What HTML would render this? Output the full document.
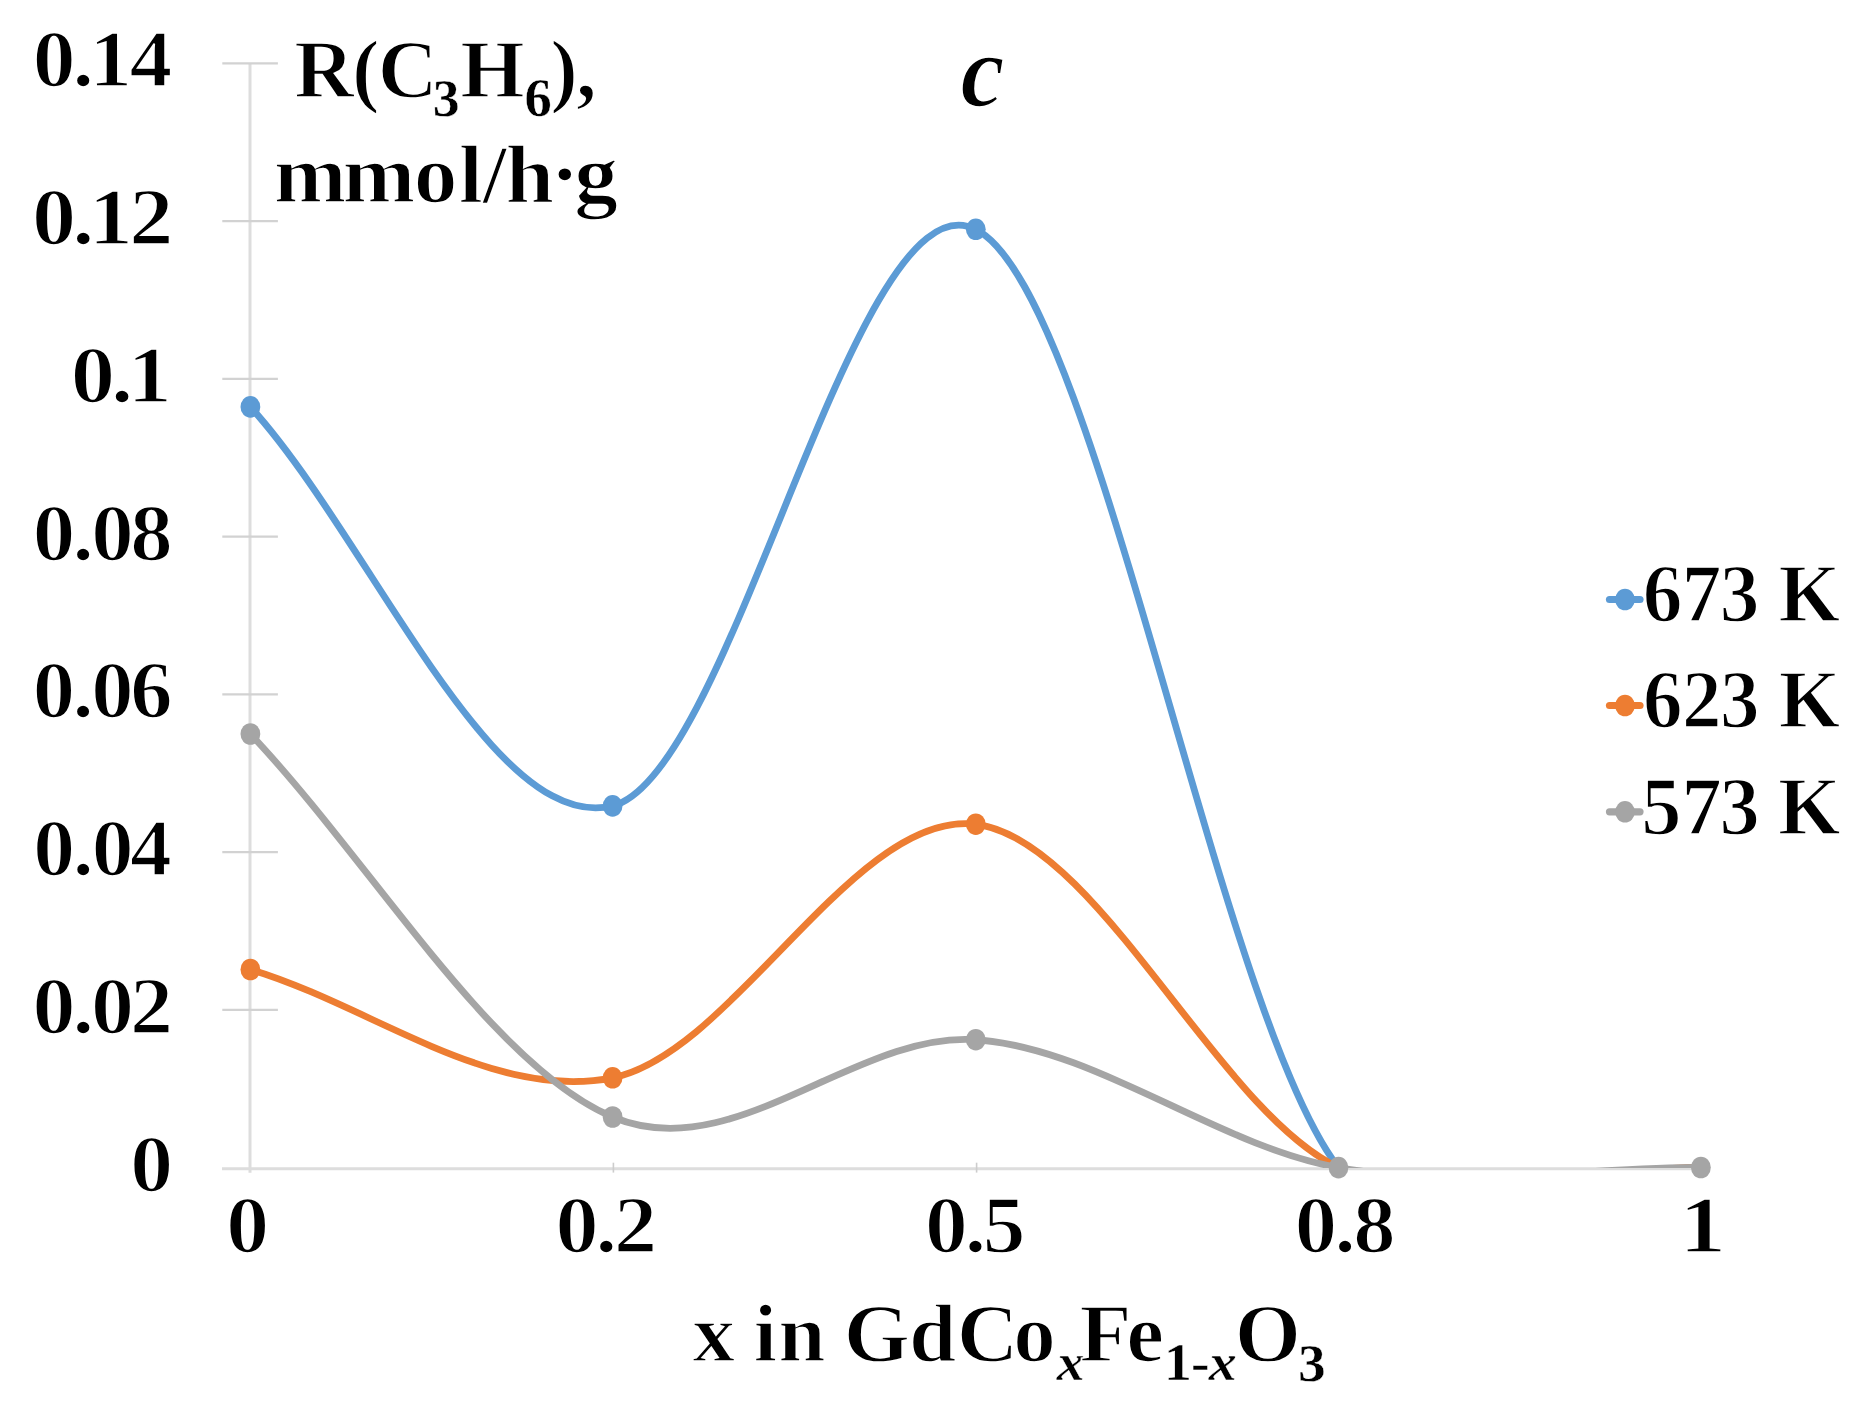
<!DOCTYPE html>
<html><head><meta charset="utf-8"><title>chart</title>
<style>
html,body{margin:0;padding:0;background:#fff;}
svg{display:block;font-family:"Liberation Serif",serif;}
text{white-space:pre;vector-effect:non-scaling-stroke;}
</style></head><body>
<svg width="1871" height="1406" viewBox="0 0 1871 1406">
<defs>
<filter id="soft" x="0" y="0" width="1871" height="1406" filterUnits="userSpaceOnUse"><feGaussianBlur stdDeviation="0.55"/></filter>
<clipPath id="pc"><rect x="0" y="0" width="1871" height="1168.1"/></clipPath>
</defs>
<rect width="1871" height="1406" fill="#fff"/>
<g filter="url(#soft)">
<g stroke="#DDDDDD" stroke-width="3.0" fill="none">
<line x1="250" y1="63.35" x2="250" y2="1172.8"/>
<line x1="222" y1="1168.7" x2="1700.9" y2="1168.7"/>
</g>
<g stroke="#D2D2D2" stroke-width="2.2" fill="none">
<line x1="222.3" y1="1009.85" x2="277.9" y2="1009.85"/>
<line x1="222.3" y1="852.10" x2="277.9" y2="852.10"/>
<line x1="222.3" y1="694.35" x2="277.9" y2="694.35"/>
<line x1="222.3" y1="536.60" x2="277.9" y2="536.60"/>
<line x1="222.3" y1="378.85" x2="277.9" y2="378.85"/>
<line x1="222.3" y1="221.10" x2="277.9" y2="221.10"/>
<line x1="222.3" y1="63.35" x2="277.9" y2="63.35"/>
</g>
<g stroke="#CDCDCD" stroke-width="1.6">
<line x1="613.4" y1="1162.7" x2="613.4" y2="1172.6"/>
<line x1="976.6" y1="1162.7" x2="976.6" y2="1172.6"/>
<line x1="1339.3" y1="1162.7" x2="1339.3" y2="1172.6"/>
</g>
<path d="M250.40,406.90 C371.13,539.90 491.70,835.50 612.60,805.90 C733.50,776.30 854.82,169.02 975.80,229.30 C1096.78,289.58 1217.65,1011.23 1338.50,1167.60 C1449.31,1310.97 1580.10,1167.53 1700.90,1167.50" fill="none" stroke="#5B9BD5" stroke-width="6.8" stroke-linecap="round" stroke-linejoin="round" clip-path="url(#pc)"/>
<ellipse cx="250.4" cy="406.9" rx="9.9" ry="10.8" fill="#5B9BD5"/>
<ellipse cx="612.6" cy="805.9" rx="9.9" ry="10.8" fill="#5B9BD5"/>
<ellipse cx="975.8" cy="229.3" rx="9.9" ry="10.8" fill="#5B9BD5"/>
<path d="M250.40,969.50 C371.13,1005.60 491.70,1102.02 612.60,1077.80 C733.50,1053.58 854.82,809.23 975.80,824.20 C1096.78,839.17 1217.65,1110.38 1338.50,1167.60 C1459.35,1224.82 1580.10,1167.53 1700.90,1167.50" fill="none" stroke="#ED7D31" stroke-width="6.8" stroke-linecap="round" stroke-linejoin="round" clip-path="url(#pc)"/>
<ellipse cx="250.4" cy="969.5" rx="9.9" ry="10.8" fill="#ED7D31"/>
<ellipse cx="612.6" cy="1077.8" rx="9.9" ry="10.8" fill="#ED7D31"/>
<ellipse cx="975.8" cy="824.2" rx="9.9" ry="10.8" fill="#ED7D31"/>
<path d="M250.40,734.00 C371.13,861.67 491.70,1066.05 612.60,1117.00 C733.50,1167.95 854.82,1031.27 975.80,1039.70 C1096.78,1048.13 1217.65,1146.30 1338.50,1167.60 C1459.35,1188.90 1580.10,1167.53 1700.90,1167.50" fill="none" stroke="#A5A5A5" stroke-width="6.8" stroke-linecap="round" stroke-linejoin="round" clip-path="url(#pc)"/>
<ellipse cx="250.4" cy="734.0" rx="9.9" ry="10.8" fill="#A5A5A5"/>
<ellipse cx="612.6" cy="1117.0" rx="9.9" ry="10.8" fill="#A5A5A5"/>
<ellipse cx="975.8" cy="1039.7" rx="9.9" ry="10.8" fill="#A5A5A5"/>
<ellipse cx="1338.5" cy="1167.6" rx="9.9" ry="10.8" fill="#A5A5A5"/>
<ellipse cx="1700.9" cy="1167.5" rx="9.9" ry="10.8" fill="#A5A5A5"/>
<line x1="1609.5" y1="599.5" x2="1640" y2="599.5" stroke="#5B9BD5" stroke-width="7.2" stroke-linecap="round"/>
<ellipse cx="1625" cy="599.5" rx="9.8" ry="10.8" fill="#5B9BD5"/>
<text transform="scale(0.9724,1)" fill="#000"><tspan x="1689.38 1729.43 1768.54 1805.75 1828.86" y="621.50" font-size="81.50" style="font-weight:bold" stroke="#fff" stroke-width="1.60">673 K</tspan></text>
<line x1="1609.5" y1="705.5" x2="1640" y2="705.5" stroke="#ED7D31" stroke-width="7.2" stroke-linecap="round"/>
<ellipse cx="1625" cy="705.5" rx="9.8" ry="10.8" fill="#ED7D31"/>
<text transform="scale(0.9691,1)" fill="#000"><tspan x="1695.36 1735.76 1774.80 1812.07 1835.37" y="727.50" font-size="81.50" style="font-weight:bold" stroke="#fff" stroke-width="1.60">623 K</tspan></text>
<line x1="1609.5" y1="811.8" x2="1640" y2="811.8" stroke="#A5A5A5" stroke-width="7.2" stroke-linecap="round"/>
<ellipse cx="1625" cy="811.8" rx="9.8" ry="10.8" fill="#A5A5A5"/>
<text transform="scale(0.9872,1)" fill="#000"><tspan x="1662.51 1703.32 1741.87 1778.83 1801.12" y="833.80" font-size="81.50" style="font-weight:bold" stroke="#fff" stroke-width="1.60">573 K</tspan></text>
<text transform="scale(1.0570,1)" fill="#000"><tspan x="123.13" y="1190.60" font-size="81.00" style="font-weight:bold" stroke="#fff" stroke-width="1.60">0</tspan></text>
<text transform="scale(1.0617,1)" fill="#000"><tspan x="30.66 68.24 85.76 122.36" y="1032.85" font-size="81.00" style="font-weight:bold" stroke="#fff" stroke-width="1.60">0.02</tspan></text>
<text transform="scale(1.0320,1)" fill="#000"><tspan x="32.12 70.49 88.81 126.08" y="875.10" font-size="81.00" style="font-weight:bold" stroke="#fff" stroke-width="1.60">0.04</tspan></text>
<text transform="scale(1.0454,1)" fill="#000"><tspan x="31.45 69.46 87.41 124.51" y="717.35" font-size="81.00" style="font-weight:bold" stroke="#fff" stroke-width="1.60">0.06</tspan></text>
<text transform="scale(1.0484,1)" fill="#000"><tspan x="31.30 69.23 87.10 124.35" y="559.60" font-size="81.00" style="font-weight:bold" stroke="#fff" stroke-width="1.60">0.08</tspan></text>
<text transform="scale(1.0952,1)" fill="#000"><tspan x="64.71 101.45 116.44" y="401.85" font-size="81.00" style="font-weight:bold" stroke="#fff" stroke-width="1.60">0.1</tspan></text>
<text transform="scale(1.0889,1)" fill="#000"><tspan x="29.39 66.28 81.43 118.79" y="244.10" font-size="81.00" style="font-weight:bold" stroke="#fff" stroke-width="1.60">0.12</tspan></text>
<text transform="scale(1.0571,1)" fill="#000"><tspan x="30.88 68.58 84.53 122.61" y="86.35" font-size="81.00" style="font-weight:bold" stroke="#fff" stroke-width="1.60">0.14</tspan></text>
<text transform="scale(1.0570,1)" fill="#000"><tspan x="214.06" y="1251.70" font-size="81.00" style="font-weight:bold" stroke="#fff" stroke-width="1.60">0</tspan></text>
<text transform="scale(1.0636,1)" fill="#000"><tspan x="522.36 559.90 577.22" y="1251.70" font-size="81.00" style="font-weight:bold" stroke="#fff" stroke-width="1.60">0.2</tspan></text>
<text transform="scale(1.0552,1)" fill="#000"><tspan x="876.56 914.31 931.41" y="1251.70" font-size="81.00" style="font-weight:bold" stroke="#fff" stroke-width="1.60">0.5</tspan></text>
<text transform="scale(1.0449,1)" fill="#000"><tspan x="1239.14 1277.16 1295.17" y="1251.70" font-size="81.00" style="font-weight:bold" stroke="#fff" stroke-width="1.60">0.8</tspan></text>
<text transform="scale(1.1576,1)" fill="#000"><tspan x="1450.57" y="1251.70" font-size="81.00" style="font-weight:bold" stroke="#fff" stroke-width="1.60">1</tspan></text>
<text transform="scale(1.0378,1)" fill="#000"><tspan x="667.28 705.72 725.98 749.98 793.98 813.07 875.94 921.92 976.46" y="1361.40" font-size="82.00" style="font-weight:bold" stroke="#fff" stroke-width="1.60">x in GdCo</tspan><tspan x="1018.23" y="1380.30" font-size="53.81" style="font-weight:bold;font-style:italic" stroke="#fff" stroke-width="0.40">x</tspan><tspan x="1040.25 1085.15" y="1361.40" font-size="82.00" style="font-weight:bold" stroke="#fff" stroke-width="1.60">Fe</tspan><tspan x="1121.58 1147.55" y="1380.30" font-size="53.64" style="font-weight:bold" stroke="#fff" stroke-width="0.40">1-</tspan><tspan x="1164.69" y="1380.30" font-size="53.81" style="font-weight:bold;font-style:italic" stroke="#fff" stroke-width="0.40">x</tspan><tspan x="1189.91" y="1361.40" font-size="82.00" style="font-weight:bold" stroke="#fff" stroke-width="1.60">O</tspan><tspan x="1250.63" y="1380.67" font-size="53.42" style="font-weight:bold" stroke="#fff" stroke-width="0.40">3</tspan></text>
<text transform="scale(1.0104,1)" fill="#000"><tspan x="291.20 348.44 373.93" y="97.20" font-size="82.00" style="font-weight:bold" stroke="#fff" stroke-width="1.60">R(C</tspan><tspan x="428.38" y="115.97" font-size="53.27" style="font-weight:bold" stroke="#fff" stroke-width="0.40">3</tspan><tspan x="455.51" y="97.20" font-size="82.00" style="font-weight:bold" stroke="#fff" stroke-width="1.60">H</tspan><tspan x="519.19" y="115.96" font-size="54.02" style="font-weight:bold" stroke="#fff" stroke-width="0.40">6</tspan><tspan x="544.57 570.17" y="97.20" font-size="82.00" style="font-weight:bold" stroke="#fff" stroke-width="1.60">),</tspan></text>
<text transform="scale(1.0665,1)" fill="#000"><tspan x="256.75 321.26 387.97 430.09 452.35 474.01 515.86 538.56" y="201.60" font-size="82.00" style="font-weight:bold" stroke="#fff" stroke-width="1.60">mmol/h·g</tspan></text>
<text transform="scale(0.9517,1)" fill="#000"><tspan x="1009.29" y="105.85" font-size="104.57" style="font-weight:bold;font-style:italic" stroke="#fff" stroke-width="1.60">c</tspan></text>
</g>
</svg>
</body></html>
